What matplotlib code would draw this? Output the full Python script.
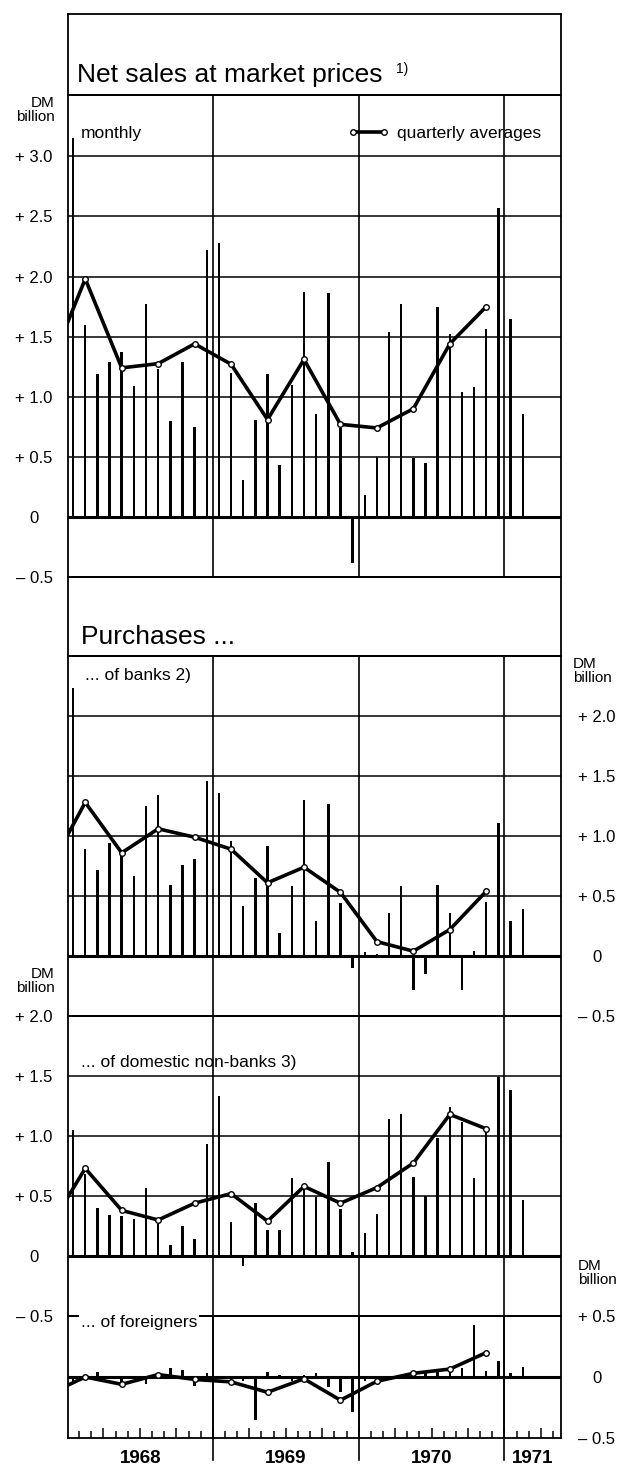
import numpy as np
import matplotlib.pyplot as plt
from matplotlib.lines import Line2D

plt.rcParams['font.family'] = ['Liberation Sans', 'DejaVu Sans']

# month index: 0 = Jan 1968 ... 37 = Feb 1971
months = np.arange(38)
# quarterly averages sit on the middle month of each quarter;
# the first one (-2 = Nov 1967) only feeds the line coming in from the left edge
quarter_pos = np.arange(-2, 35, 3)

net_sales_monthly = [3.15, 1.60, 1.19, 1.29, 1.37, 1.09, 1.77, 1.23, 0.80, 1.29, 0.75, 2.22,
                     2.28, 1.20, 0.31, 0.81, 1.19, 0.43, 1.10, 1.87, 0.86, 1.86, 0.74, -0.38,
                     0.18, 0.50, 1.54, 1.77, 0.49, 0.45, 1.75, 1.52, 1.04, 1.08, 1.56, 2.57,
                     1.65, 0.86]
net_sales_quarterly = [1.23, 1.98, 1.24, 1.275, 1.44, 1.27, 0.81, 1.31, 0.77, 0.74, 0.90, 1.44, 1.75]

banks_monthly = [2.23, 0.89, 0.72, 0.94, 0.87, 0.67, 1.25, 1.34, 0.59, 0.76, 0.81, 1.46,
                 1.36, 0.96, 0.42, 0.65, 0.92, 0.19, 0.58, 1.30, 0.29, 1.27, 0.44, -0.10,
                 0.03, 0.02, 0.36, 0.58, -0.28, -0.15, 0.59, 0.36, -0.28, 0.04, 0.45, 1.11,
                 0.29, 0.39]
banks_quarterly = [0.72, 1.28, 0.86, 1.06, 0.99, 0.89, 0.61, 0.74, 0.53, 0.12, 0.04, 0.22, 0.54]

nonbanks_monthly = [1.05, 0.68, 0.40, 0.34, 0.33, 0.31, 0.57, 0.27, 0.09, 0.25, 0.14, 0.93,
                    1.33, 0.28, -0.08, 0.44, 0.22, 0.22, 0.65, 0.56, 0.49, 0.78, 0.39, 0.03,
                    0.19, 0.35, 1.14, 1.18, 0.66, 0.50, 0.98, 1.24, 1.12, 0.65, 1.05, 1.49,
                    1.38, 0.47]
nonbanks_quarterly = [0.23, 0.73, 0.38, 0.30, 0.44, 0.52, 0.29, 0.58, 0.44, 0.57, 0.775, 1.18, 1.06]

foreign_monthly = [-0.05, 0.01, 0.045, -0.01, -0.04, 0.0, -0.06, 0.02, 0.07, 0.055, -0.075, 0.035,
                   -0.02, -0.03, -0.03, -0.35, 0.04, 0.02, -0.03, 0.02, 0.03, -0.08, -0.125, -0.29,
                   -0.035, -0.02, -0.01, 0.01, 0.02, 0.035, 0.04, 0.05, 0.07, 0.425, 0.05, 0.135,
                   0.03, 0.085]
foreign_quarterly = [-0.14, 0.0, -0.06, 0.02, -0.02, -0.04, -0.125, -0.015, -0.19, -0.035, 0.03, 0.065, 0.20]

years = ["1968", "1969", "1970", "1971"]

# layout in pixels
W, H = 618, 1466
L, R = 68, 561
X0, X1 = -0.42, 40.15
year_breaks = [12 * k - 0.5 for k in range(1, len(years))]


def rect(top, bottom):
    return [L / W, 1 - bottom / H, (R - L) / W, (bottom - top) / H]


def fx(x):
    return x / W


def fy(y):
    return 1 - y / H


def fmt(v):
    if v == 0:
        return "0"
    return f"+ {v:.1f}" if v > 0 else f"\u2013 {abs(v):.1f}"


fig = plt.figure(figsize=(W / 100, H / 100), dpi=100)


def frame_box(top, bottom):
    ax = fig.add_axes(rect(top, bottom))
    ax.set_xticks([])
    ax.set_yticks([])
    for s in ax.spines.values():
        s.set_linewidth(1.3)
    return ax


def panel(top, bottom, ylim, ticks, side):
    ax = fig.add_axes(rect(top, bottom))
    ax.set_xlim(X0, X1)
    ax.set_ylim(*ylim)
    ax.patch.set_alpha(0)
    for s in ax.spines.values():
        s.set_linewidth(1.3)
    ax.set_xticks([])
    for v in ticks:
        if ylim[0] < v < ylim[1]:
            ax.axhline(v, color="black", lw=2.2 if v == 0 else 1.1, zorder=1)
    for b in year_breaks:
        ax.axvline(b, color="black", lw=1.2, zorder=1)
    if side == "right":
        ax.yaxis.tick_right()
        pad = (597 - R) * 0.72
    else:
        pad = (L - 34) * 0.72
    ax.set_yticks(ticks)
    ax.set_yticklabels([fmt(v) for v in ticks], fontsize=12, ha="center")
    ax.tick_params(axis="y", length=0, pad=pad)
    return ax


def draw_series(ax, monthly, quarterly):
    ax.bar(months, monthly, width=0.2, color="black", zorder=3)
    line, = ax.plot(quarter_pos, quarterly, color="black", lw=2.6, marker="o", ms=4,
                    mfc="white", mec="black", mew=1.0, zorder=4)
    return line


# title boxes
frame_box(14, 95)
frame_box(577, 656)
fig.text(fx(77), fy(75), "Net sales at market prices", fontsize=19, va="center")
fig.text(fx(396), fy(69), "1)", fontsize=10, va="center")
fig.text(fx(81), fy(637), "Purchases ...", fontsize=19, va="center")

# net sales
ax1 = panel(95, 577, (-0.5, 3.51), [-0.5, 0, 0.5, 1.0, 1.5, 2.0, 2.5, 3.0], "left")
qline = draw_series(ax1, net_sales_monthly, net_sales_quarterly)
ax1.text(fx(81 - L) * W / (R - L), 0.921, "monthly", transform=ax1.transAxes,
         fontsize=12.5, va="center")
handle = Line2D([], [], color="black", lw=2.6, marker="o", ms=4, mfc="white", mec="black", mew=1.0)
ax1.legend([handle], ["quarterly averages"], numpoints=2, frameon=False, fontsize=12.5,
           loc="center left", bbox_to_anchor=((348 - L) / (R - L), 0.921),
           borderaxespad=0, borderpad=0, handlelength=2.4, handletextpad=0.45)
fig.text(fx(55), fy(110), "DM\nbillion", fontsize=11, ha="right", va="center",
         multialignment="right", linespacing=1.0)

# banks
ax2 = panel(656, 1016, (-0.5, 2.5), [-0.5, 0, 0.5, 1.0, 1.5, 2.0], "right")
draw_series(ax2, banks_monthly, banks_quarterly)
fig.text(fx(85), fy(675), "... of banks 2)", fontsize=12.5, va="center")
fig.text(fx(573), fy(671), "DM\nbillion", fontsize=11, ha="left", va="center", linespacing=1.0)

# domestic non-banks
ax3 = panel(1016, 1316, (-0.5, 2.0), [-0.5, 0, 0.5, 1.0, 1.5, 2.0], "left")
draw_series(ax3, nonbanks_monthly, nonbanks_quarterly)
fig.text(fx(81), fy(1062), "... of domestic non-banks 3)", fontsize=12.5, va="center")
fig.text(fx(55), fy(981), "DM\nbillion", fontsize=11, ha="right", va="center",
         multialignment="right", linespacing=1.0)

# foreigners
ax4 = panel(1316, 1438, (-0.5, 0.5), [-0.5, 0, 0.5], "right")
draw_series(ax4, foreign_monthly, foreign_quarterly)
fig.text(fx(81), fy(1322), "... of foreigners", fontsize=12.5, va="center",
         bbox=dict(facecolor="white", edgecolor="none", pad=1.5))
fig.text(fx(578), fy(1273), "DM\nbillion", fontsize=11, ha="left", va="center", linespacing=1.0)

bounds = np.arange(0.5, 40, 1.0)
ax4.set_xticks([b for b in bounds if (b + 0.5) % 3 == 0])
ax4.set_xticks([b for b in bounds if (b + 0.5) % 3 != 0], minor=True)
ax4.tick_params(axis="x", which="both", direction="in", width=1.1, labelbottom=False)
ax4.tick_params(axis="x", which="major", length=7.5)
ax4.tick_params(axis="x", which="minor", length=5)
for b in year_breaks:
    ax4.axvline(b, ymin=-0.18, ymax=1, color="black", lw=1.2, clip_on=False)

edges = [X0] + year_breaks + [X1]
for i, y in enumerate(years):
    ax4.text((edges[i] + edges[i + 1]) / 2, -0.165, y, transform=ax4.get_xaxis_transform(),
             ha="center", va="center", fontsize=13.5, fontweight="bold")

fig.savefig("out.png", dpi=100)
